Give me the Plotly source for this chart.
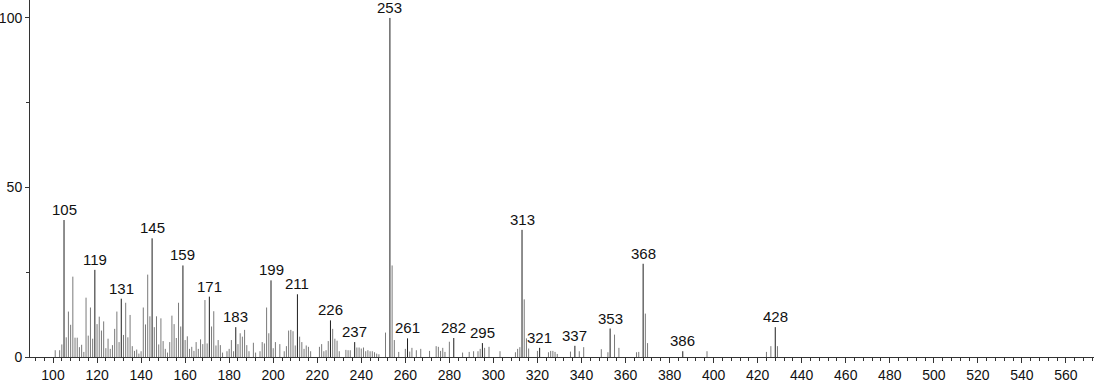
import plotly.graph_objects as go

# m/z values and relative intensities (%)
mz = [101, 103, 104, 105, 106, 107, 108, 109, 110, 111, 112, 113, 114, 115, 116, 117, 118, 119,
      120, 121, 122, 123, 124, 125, 126, 127, 128, 129, 130, 131, 132, 133, 134, 135, 136, 137,
      138, 139, 140, 141, 142, 143, 144, 145, 146, 147, 148, 149, 150, 151, 152, 153, 154, 155,
      156, 157, 158, 159, 160, 161, 162, 163, 164, 165, 166, 167, 168, 169, 170, 171, 172, 173,
      174, 175, 176, 177, 179, 180, 181, 182, 183, 184, 185, 186, 187, 188, 189, 191, 192, 194,
      195, 196, 197, 198, 199, 200, 201, 203, 205, 206, 207, 208, 209, 210, 211, 212, 213, 214,
      215, 216, 217, 221, 222, 223, 224, 225, 226, 227, 228, 229, 230, 233, 234, 235, 237, 238,
      239, 240, 241, 242, 243, 244, 245, 246, 247, 248, 251, 253, 254, 255, 257, 260, 261, 262,
      263, 265, 267, 271, 274, 275, 276, 277, 278, 280, 282, 286, 289, 291, 293, 294, 295, 296,
      298, 303, 310, 311, 312, 313, 314, 315, 316, 320, 321, 325, 326, 327, 328, 329, 335, 337,
      339, 341, 349, 352, 353, 355, 357, 365, 366, 368, 369, 370, 386, 397, 424, 426, 428, 429]
intensity = [2.0, 2.0, 3.7, 40.4, 5.8, 13.4, 9.5, 23.7, 5.7, 5.7, 2.9, 3.6, 1.5, 17.5, 6.3, 14.6, 5.4, 25.7,
             9.7, 11.9, 7.8, 10.5, 2.6, 5.4, 2.4, 3.5, 8.3, 13.4, 4.4, 17.2, 6.5, 16.0, 5.8, 12.4, 3.2, 1.8,
             2.2, 1.0, 1.7, 14.6, 9.6, 24.3, 12.0, 35.0, 8.8, 12.0, 3.7, 11.4, 4.7, 2.4, 1.3, 4.4, 12.2, 9.7,
             5.6, 16.0, 9.0, 27.0, 5.0, 6.1, 2.4, 3.0, 1.8, 4.4, 2.4, 5.2, 3.8, 16.8, 4.0, 17.8, 9.0, 13.5,
             3.4, 5.0, 3.5, 1.3, 1.7, 2.4, 5.0, 1.7, 8.8, 3.8, 7.0, 6.0, 8.0, 3.5, 1.7, 4.2, 1.3, 1.7,
             4.4, 4.0, 14.6, 7.0, 22.6, 2.6, 4.4, 3.8, 1.7, 3.2, 7.8, 8.0, 7.6, 3.4, 18.5, 6.0, 4.4, 2.4,
             3.4, 3.0, 1.7, 3.0, 3.8, 1.7, 2.0, 4.7, 10.8, 8.3, 5.4, 4.8, 1.7, 2.1, 2.0, 2.0, 4.4, 2.8,
             2.8, 2.5, 2.8, 1.7, 2.0, 1.7, 1.7, 1.4, 1.0, 0.8, 7.2, 100.0, 27.0, 5.0, 1.5, 2.4, 5.5, 1.6,
             2.7, 2.0, 2.4, 1.8, 3.2, 3.0, 1.8, 2.7, 1.5, 4.5, 5.6, 1.3, 1.5, 1.7, 1.7, 2.4, 4.1, 2.7,
             3.0, 1.7, 1.4, 2.4, 2.9, 37.5, 17.0, 5.5, 2.5, 1.8, 2.7, 1.4, 1.8, 1.8, 1.5, 0.9, 1.6, 3.3,
             1.7, 2.9, 2.3, 1.4, 8.4, 6.6, 2.7, 1.4, 1.5, 27.5, 12.8, 4.1, 1.7, 1.7, 1.5, 3.2, 8.8, 3.2]

labeled_mz = [105, 119, 131, 145, 159, 171, 183, 199, 211, 226, 237, 253, 261, 282, 295,
              313, 321, 337, 353, 368, 386, 428]

x_ticks = list(range(100, 561, 20))
y_ticks = [0, 50, 100]

lookup = dict(zip(mz, intensity))


def stems(xs, ys):
    sx, sy = [], []
    for a, b in zip(xs, ys):
        sx += [a, a, None]
        sy += [0, b, None]
    return sx, sy


plain = [(m, i) for m, i in zip(mz, intensity) if m not in labeled_mz]
marked = [(m, lookup[m]) for m in labeled_mz]

fig = go.Figure()
px_, py_ = stems([p[0] for p in plain], [p[1] for p in plain])
fig.add_trace(go.Scatter(x=px_, y=py_, mode="lines",
                         line=dict(color="#7a7a7a", width=1), hoverinfo="skip",
                         showlegend=False))
mx_, my_ = stems([p[0] for p in marked], [p[1] for p in marked])
fig.add_trace(go.Scatter(x=mx_, y=my_, mode="lines",
                         line=dict(color="#1e1e1e", width=1), hoverinfo="skip",
                         showlegend=False))

font = dict(family="Liberation Sans, Arial, sans-serif", size=15, color="#111111")
tfont = dict(family="Liberation Sans, Arial, sans-serif", size=14, color="#111111")

for m, i in marked:
    fig.add_annotation(x=m, y=i, text=str(m), showarrow=False, yanchor="bottom",
                       yshift=0, font=font)

fig.update_layout(
    width=1094, height=384,
    margin=dict(l=30, r=0, t=0, b=27, autoexpand=False),
    paper_bgcolor="white", plot_bgcolor="white",
    font=font,
    showlegend=False,
    xaxis=dict(range=[89.55, 572.75], tickvals=x_ticks, ticktext=[str(v) for v in x_ticks],
               automargin=False,
               showgrid=False, zeroline=False, showline=True, linecolor="#333333", linewidth=1,
               ticks="outside", ticklen=5, tickcolor="#333333", tickwidth=1,
               minor=dict(dtick=4, tick0=100, ticks="outside", ticklen=3, tickcolor="#333333",
                          showgrid=False),
               tickfont=tfont),
    yaxis=dict(range=[0, 105.3], tickvals=y_ticks, ticktext=[str(v) for v in y_ticks],
               automargin=False,
               showgrid=False, zeroline=False, showline=True, linecolor="#333333", linewidth=1,
               ticks="outside", ticklen=4, tickcolor="#333333", tickwidth=1,
               minor=dict(tickvals=[25, 75], ticks="outside", ticklen=3, tickcolor="#333333",
                          showgrid=False),
               tickfont=tfont),
)

fig.write_html("out.html")
